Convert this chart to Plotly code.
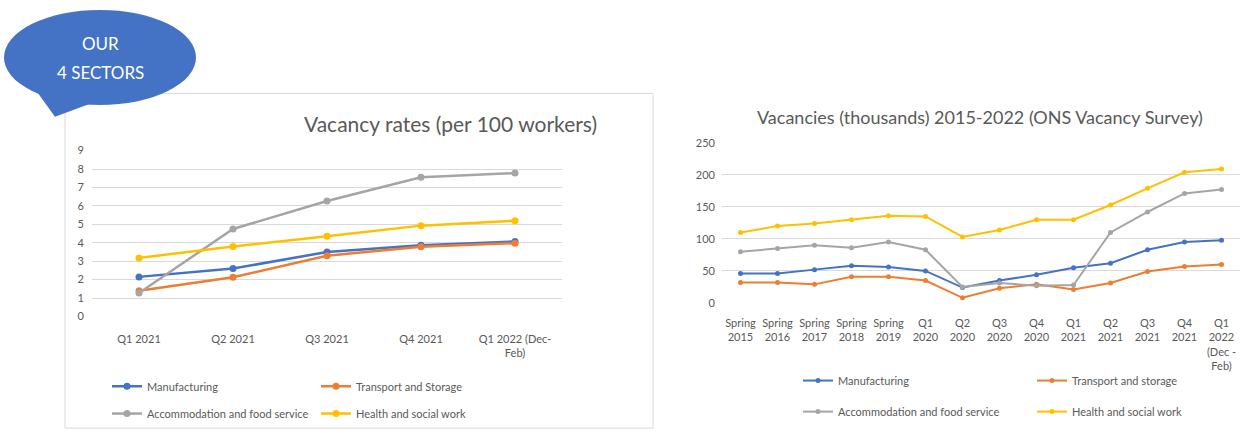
import plotly.graph_objects as go

W, H = 1244, 437

# ---------------- data ----------------
left_categories = ["Q1 2021", "Q2 2021", "Q3 2021", "Q4 2021", "Q1 2022 (Dec-<br>Feb)"]
left_manufacturing = [2.15, 2.6, 3.5, 3.87, 4.07]
left_transport = [1.4, 2.13, 3.3, 3.78, 3.98]
left_accommodation = [1.28, 4.75, 6.27, 7.55, 7.78]
left_health = [3.18, 3.8, 4.36, 4.93, 5.2]

right_categories = ["Spring<br>2015", "Spring<br>2016", "Spring<br>2017", "Spring<br>2018", "Spring<br>2019",
                    "Q1<br>2020", "Q2<br>2020", "Q3<br>2020", "Q4<br>2020", "Q1<br>2021",
                    "Q2<br>2021", "Q3<br>2021", "Q4<br>2021", "Q1<br>2022<br>(Dec -<br>Feb)"]
right_manufacturing = [46, 46, 52, 58, 56, 50, 24, 35, 44, 55, 62, 83, 95, 98]
right_transport = [32, 32, 29, 41, 41, 35, 8, 23, 29, 21, 31, 49, 57, 60]
right_accommodation = [80, 85, 90, 86, 95, 83, 25, 31, 27, 28, 110, 142, 171, 177]
right_health = [110, 120, 124, 130, 136, 135, 103, 114, 130, 130, 153, 179, 204, 209]

series_names_left = ["Manufacturing", "Transport and Storage", "Accommodation and food service", "Health and social work"]
series_names_right = ["Manufacturing", "Transport and storage", "Accommodation and food service", "Health and social work"]
colors = ["#4472C4", "#ED7D31", "#A5A5A5", "#FFC000"]

FONT = "Lato"
TXT = "#595959"


def px(x):
    return x / W


def py(y):
    return 1 - y / H


fig = go.Figure()

left_vals = [left_manufacturing, left_transport, left_accommodation, left_health]
right_vals = [right_manufacturing, right_transport, right_accommodation, right_health]

# legend positions (pixel coords of legend box left, row centre)
left_leg_pos = [(107, 391), (316, 391), (107, 419), (316, 419)]
right_leg_pos = [(798, 385), (1032, 385), (798, 417), (1032, 417)]

legends = {}
for i in range(4):
    lname = "legend" if i == 0 else f"legend{i + 1}"
    fig.add_trace(go.Scatter(
        x=left_categories, y=left_vals[i], name=series_names_left[i],
        mode="lines+markers", line=dict(color=colors[i], width=2.5),
        marker=dict(color=colors[i], size=7, symbol="circle"),
        xaxis="x", yaxis="y", legend=lname))
    legends[lname] = dict(x=px(left_leg_pos[i][0]), y=py(left_leg_pos[i][1]),
                          xanchor="left", yanchor="middle",
                          bgcolor="rgba(0,0,0,0)", font=dict(family=FONT, size=11, color=TXT),
                          itemwidth=30)
for i in range(4):
    lname = f"legend{i + 5}"
    fig.add_trace(go.Scatter(
        x=right_categories, y=right_vals[i], name=series_names_right[i],
        mode="lines+markers", line=dict(color=colors[i], width=2),
        marker=dict(color=colors[i], size=5, symbol="circle"),
        xaxis="x2", yaxis="y2", legend=lname))
    legends[lname] = dict(x=px(right_leg_pos[i][0]), y=py(right_leg_pos[i][1]),
                          xanchor="left", yanchor="middle",
                          bgcolor="rgba(0,0,0,0)", font=dict(family=FONT, size=11, color=TXT),
                          itemwidth=30)

axis_common = dict(showline=False, ticks="", tickfont=dict(family=FONT, size=11, color=TXT))

fig.update_layout(
    width=W, height=H,
    margin=dict(l=0, r=0, t=0, b=0),
    paper_bgcolor="white", plot_bgcolor="rgba(0,0,0,0)",
    showlegend=True,
    xaxis=dict(domain=[px(92), px(562)], type="category", range=[-0.5, 4.5],
               showgrid=False, zeroline=False, anchor="y", ticklabelstandoff=14, **axis_common),
    yaxis=dict(domain=[py(319), py(148)], range=[0, 9], dtick=1,
               showgrid=True, gridcolor="#D9D9D9", gridwidth=1, zeroline=False,
               anchor="x", ticklabelstandoff=7, **axis_common),
    xaxis2=dict(domain=[px(722), px(1240)], type="category", range=[-0.5, 13.5],
                showgrid=False, zeroline=False, anchor="y2", ticklabelstandoff=12, **axis_common),
    yaxis2=dict(domain=[py(305), py(140)], range=[0, 250], dtick=50,
                showgrid=True, gridcolor="#D9D9D9", gridwidth=1, zeroline=False,
                anchor="x2", ticklabelstandoff=6, **axis_common),
    **legends,
)

# left chart frame
fig.add_shape(type="rect", xref="paper", yref="paper",
              x0=px(65), x1=px(653), y0=py(434), y1=py(89),
              line=dict(color="#D9D9D9", width=1), fillcolor="rgba(0,0,0,0)", layer="below")

# speech bubble
fig.add_shape(type="path", xref="paper", yref="paper",
              path=f"M {px(36)} {py(86)} L {px(55)} {py(113)} L {px(92)} {py(99)} Z",
              fillcolor="#4472C4", line=dict(width=0), layer="above")
fig.add_shape(type="circle", xref="paper", yref="paper",
              x0=px(4), x1=px(196), y0=py(101), y1=py(3),
              fillcolor="#4472C4", line=dict(width=0), layer="above")

fig.add_annotation(x=px(100), y=py(38), xref="paper", yref="paper",
                   xanchor="center", yanchor="middle",
                   text="OUR", showarrow=False,
                   font=dict(family=FONT, size=17, color="white"))
fig.add_annotation(x=px(100), y=py(68), xref="paper", yref="paper",
                   xanchor="center", yanchor="middle",
                   text="4 SECTORS", showarrow=False,
                   font=dict(family=FONT, size=17, color="white"))

# titles
fig.add_annotation(x=px(450), y=py(120), xref="paper", yref="paper",
                   xanchor="center", yanchor="middle",
                   text="Vacancy rates (per 100 workers)", showarrow=False,
                   font=dict(family=FONT, size=21, color=TXT))
fig.add_annotation(x=px(980), y=py(113), xref="paper", yref="paper",
                   xanchor="center", yanchor="middle",
                   text="Vacancies (thousands) 2015-2022 (ONS Vacancy Survey)", showarrow=False,
                   font=dict(family=FONT, size=18, color=TXT))

fig.write_html("out.html", config={"displayModeBar": False},
               post_script="document.body.style.margin='0';document.body.style.overflow='hidden';")
